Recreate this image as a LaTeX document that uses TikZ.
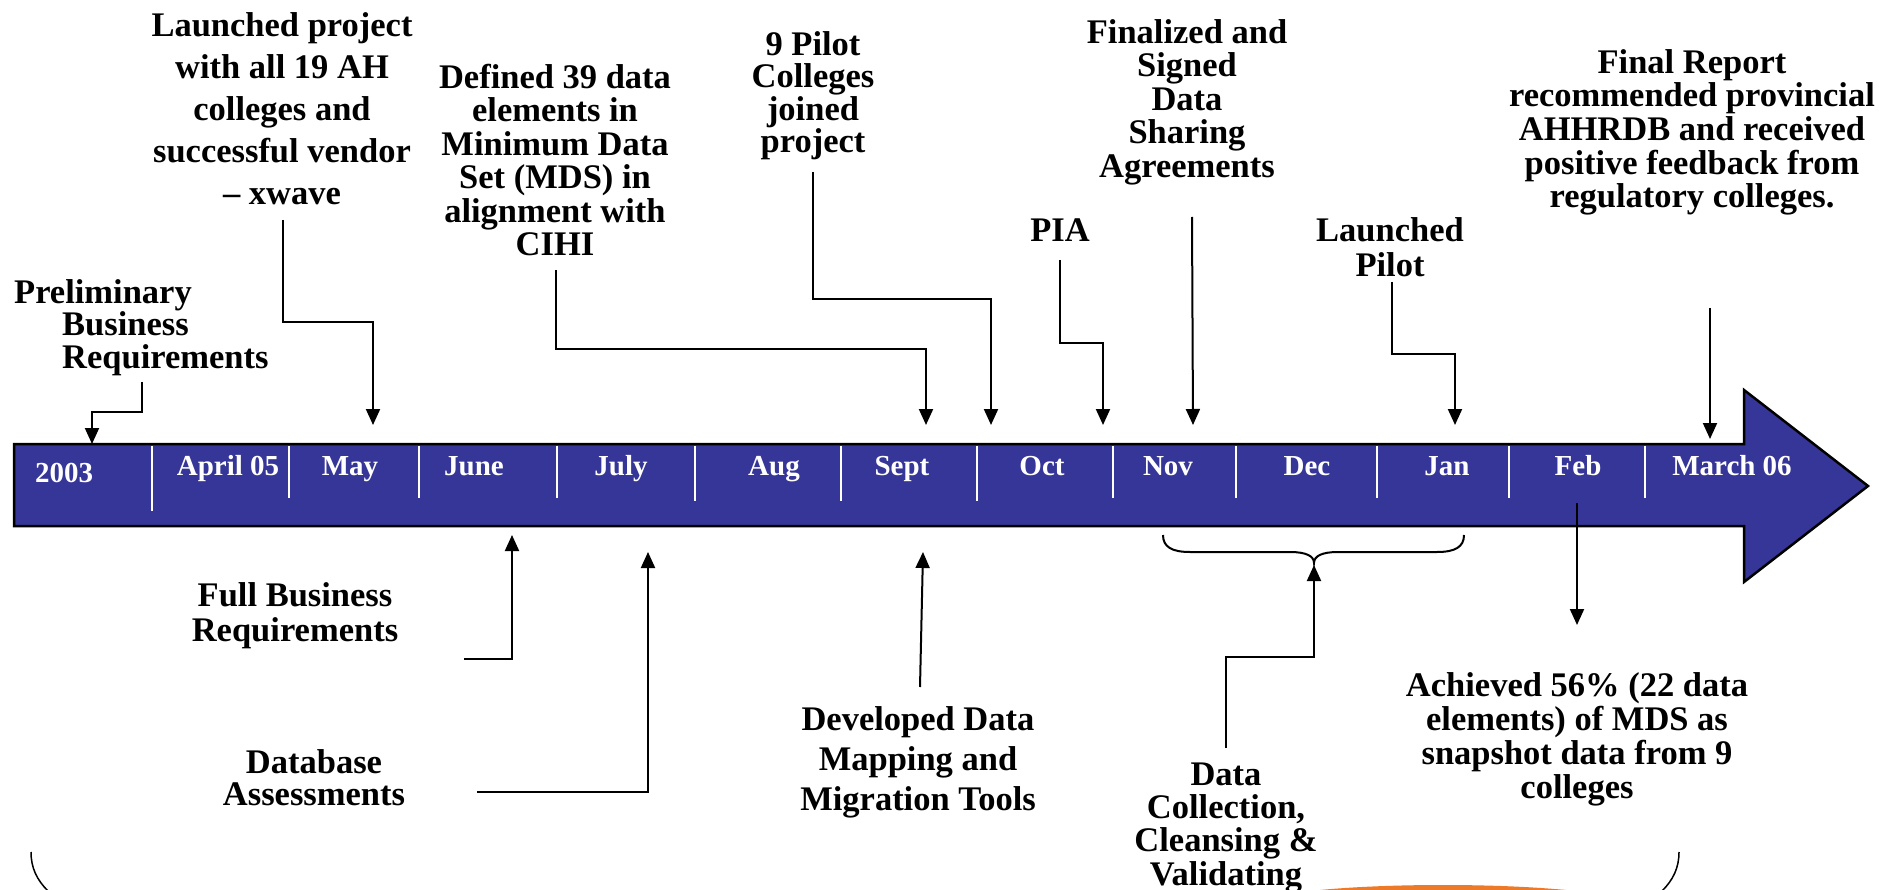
\documentclass[tikz,border=0pt]{standalone}
\usepackage{fontspec}
\setmainfont{Liberation Serif}
\usetikzlibrary{arrows.meta}
\definecolor{barblue}{RGB}{54,54,152}
\definecolor{orng}{RGB}{236,122,40}
\newcommand\lblfont[1]{\fontsize{34.5}{#1}\selectfont\bfseries\lineskiplimit=-100pt\relax}
\newcommand\fl{\rule{0pt}{24pt}}
\begin{document}
\begin{tikzpicture}[x=1pt,y=-1pt,
  lbl/.style={align=center, anchor=north, inner sep=0pt, font=\lblfont{#1}},
  lbl/.default=33.5,
  mon/.style={anchor=base, inner sep=0pt, text=white, font=\fontsize{29}{30}\selectfont\bfseries},
  conn/.style={line width=2pt, -{Triangle[width=14pt,length=16pt]}},
  plain/.style={line width=2pt},
  divider/.style={white, line width=2pt},
]
\useasboundingbox (0,0) rectangle (1882,890);

% ---- orange shape at the bottom
\begin{scope}
\clip (0,0) rectangle (1882,890);
\fill[orng] (1443,906) ellipse [x radius=190, y radius=21];
\end{scope}

% ---- timeline arrow
\filldraw[fill=barblue, draw=black, line width=2.5pt, line join=miter]
  (14,444) -- (1744,444) -- (1744,390) -- (1868,486) -- (1744,582) -- (1744,526) -- (14,526) -- cycle;

% dividers
\foreach \x/\b in {152/511, 289/498, 419/498, 557/498, 695/501, 841/501, 977/501, 1113/498, 1236/498, 1377/498, 1509/498, 1645/498}
  \draw[divider] (\x,445.5) -- (\x,\b);

% month labels
\node[mon] (m0) at (64,482) {2003};
\node[mon] (m1) at (228,475) {April 05};
\node[mon] (m2) at (350,475) {May};
\node[mon] (m3) at (474,475) {June};
\node[mon] (m4) at (621,475) {July};
\node[mon] (m5) at (774,475) {Aug};
\node[mon] (m6) at (902,475) {Sept};
\node[mon] (m7) at (1042,475) {Oct};
\node[mon] (m8) at (1168,475) {Nov};
\node[mon] (m9) at (1307,475) {Dec};
\node[mon] (m10) at (1447,475) {Jan};
\node[mon] (m11) at (1578,475) {Feb};
\node[mon] (m12) at (1732,475) {March 06};

% ---- upper labels
\node[lbl=32.5, anchor=north west, align=left] (prelim) at (62,279) {\fl\hspace*{-48pt}Preliminary\\Business\\Requirements};
\node[lbl=42] (launch) at (282,12) {\fl Launched project\\with all 19 AH\\colleges and\\successful vendor\\– xwave};
\node[lbl=33.5] (defined) at (555,64) {\fl Defined 39 data\\elements in\\Minimum Data\\Set (MDS) in\\alignment with\\CIHI};
\node[lbl=32.5] (pilot9) at (813,31) {\fl 9 Pilot\\Colleges\\joined\\project};
\node[lbl=33.5] (final) at (1187,19) {\fl Finalized and\\Signed\\Data\\Sharing\\Agreements};
\node[lbl=34] (pia) at (1060,217) {\fl PIA};
\node[lbl=35] (lpilot) at (1390,217) {\fl Launched\\Pilot};
\node[lbl=33.7] (report) at (1692,49) {\fl Final Report\\recommended provincial\\AHHRDB and received\\positive feedback from\\regulatory colleges.};

% ---- lower labels
\node[lbl=35] (fullbr) at (295,582) {\fl Full Business\\Requirements};
\node[lbl=32] (dbassess) at (314,749) {\fl Database\\Assessments};
\node[lbl=40] (devtools) at (918,706) {\fl Developed Data\\Mapping and\\Migration Tools};
\node[lbl=33.3] (collect) at (1226,761) {\fl Data\\Collection,\\Cleansing \&\\Validating};
\node[lbl=34] (achieved) at (1577,672) {\fl Achieved 56\% (22 data\\elements) of MDS as\\snapshot data from 9\\colleges};

% ---- connector end points
\coordinate (s1) at (142,382);  \coordinate (e1) at (92,444);
\coordinate (s2) at (283,220);  \coordinate (e2) at (373,425);
\coordinate (s3) at (556,270);  \coordinate (e3) at (926,425);
\coordinate (s4) at (813,172);  \coordinate (e4) at (991,425);
\coordinate (s5) at (1060,260); \coordinate (e5) at (1103,425);
\coordinate (s6) at (1192,217); \coordinate (e6) at (1193,425);
\coordinate (s7) at (1392,282); \coordinate (e7) at (1455,425);
\coordinate (s8) at (1710,308); \coordinate (e8) at (1710,439);
\coordinate (s9) at (464,659);  \coordinate (e9) at (512,535);
\coordinate (s10) at (477,792); \coordinate (e10) at (648,552);
\coordinate (s11) at (920,687); \coordinate (e11) at (923,552);
\coordinate (s12) at (1226,748); \coordinate (e12) at (1314,565);
\coordinate (s13) at (1577,503); \coordinate (e13) at (1577,625);

% ---- connectors above
\draw[conn] (s1) -- (142,412) -- (92,412) -- (e1);
\draw[conn] (s2) -- (283,322) -- (373,322) -- (e2);
\draw[conn] (s3) -- (556,349) -- (926,349) -- (e3);
\draw[conn] (s4) -- (813,299) -- (991,299) -- (e4);
\draw[conn] (s5) -- (1060,343) -- (1103,343) -- (e5);
\draw[conn] (s6) -- (e6);
\draw[conn] (s7) -- (1392,354) -- (1455,354) -- (e7);
\draw[conn] (s8) -- (e8);

% ---- connectors below
\draw[conn] (s9) -- (512,659) -- (e9);
\draw[conn] (s10) -- (648,792) -- (e10);
\draw[conn] (s11) -- (e11);
\draw[conn] (s12) -- (1226,657) -- (1314,657) -- (e12);
\draw[conn] (s13) -- (e13);

% ---- brace Nov--Jan
\draw[plain] (1163,535) .. controls (1163,547) and (1172,552) .. (1190,552) -- (1290,552)
  .. controls (1306,552) and (1314,556) .. (1314,563)
  .. controls (1314,556) and (1322,552) .. (1338,552) -- (1437,552)
  .. controls (1455,552) and (1464,547) .. (1464,535);

% ---- bottom arcs
\draw[line width=1.5pt] (31,852) .. controls (31,868) and (37,880) .. (48,891);
\draw[line width=1.5pt] (1679,852) .. controls (1679,868) and (1673,880) .. (1662,891);
\end{tikzpicture}
\end{document}
